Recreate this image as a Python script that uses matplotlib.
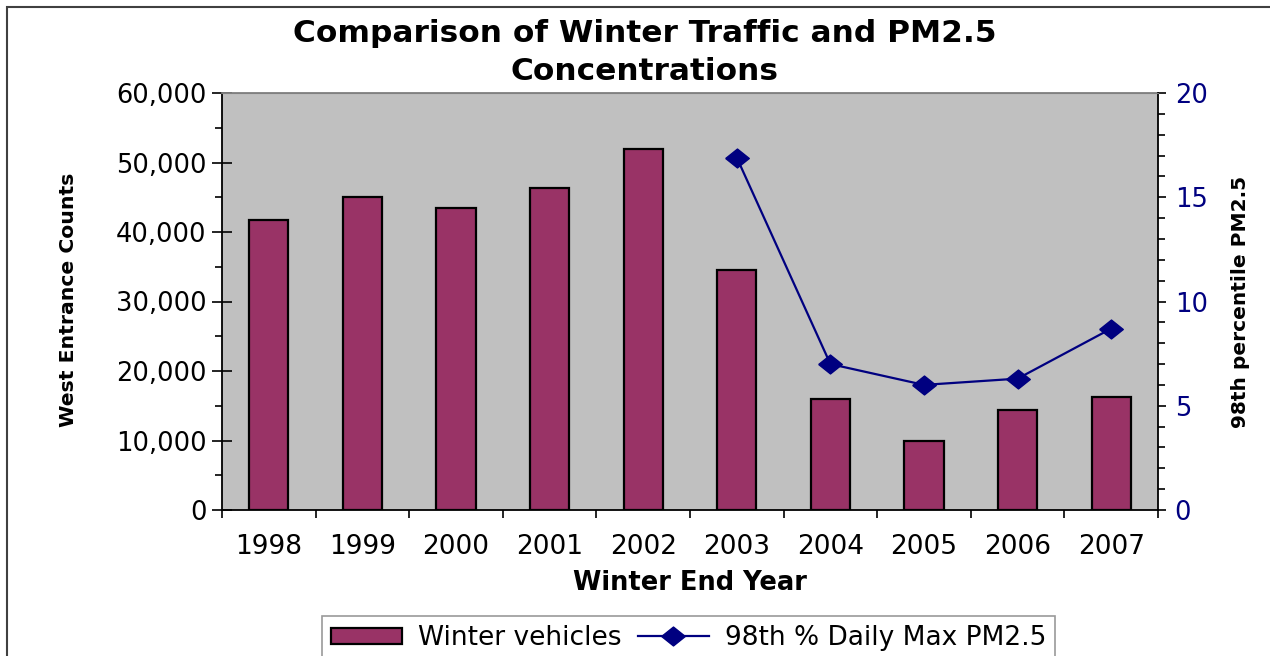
import matplotlib
matplotlib.use('Agg')
import matplotlib.pyplot as plt
import numpy as np
from matplotlib.ticker import FuncFormatter, MultipleLocator, FixedLocator
from matplotlib.lines import Line2D
from matplotlib.patches import Patch, Rectangle

# ---- data ----
years = ['1998', '1999', '2000', '2001', '2002', '2003', '2004', '2005', '2006', '2007']
vehicles = [41700, 45100, 43500, 46400, 51900, 34500, 16000, 9900, 14400, 16200]
pm_years = ['2003', '2004', '2005', '2006', '2007']
pm25 = [16.9, 7.0, 6.0, 6.3, 8.7]

title_line1 = 'Comparison of Winter Traffic and PM2.5'
title_line2 = 'Concentrations'
xlabel = 'Winter End Year'
ylabel_left = 'West Entrance Counts'
ylabel_right = '98th percentile PM2.5'
legend_labels = ['Winter vehicles', '98th % Daily Max PM2.5']

BAR_COLOR = '#993366'
LINE_COLOR = '#000080'
PLOT_BG = '#C0C0C0'
DIAMOND = [(-1, 0), (0, 0.8), (1, 0), (0, -0.8), (-1, 0)]

W, H = 1270, 656
plt.rcParams['font.family'] = ['DejaVu Sans']

fig = plt.figure(figsize=(W / 100, H / 100), dpi=100)
fig.patch.set_facecolor('white')

L, R, T, B = 222, 1158, 93, 510
ax = fig.add_axes([L / W, 1 - B / H, (R - L) / W, (B - T) / H])
ax.set_facecolor(PLOT_BG)

x = np.arange(len(years))
ax.bar(x, vehicles, width=0.42, color=BAR_COLOR, edgecolor='black', linewidth=1.6, zorder=3)
ax.set_xlim(-0.5, len(years) - 0.5)
ax.set_ylim(0, 60000)

# y axis (left)
ax.yaxis.set_major_locator(MultipleLocator(10000))
ax.yaxis.set_minor_locator(MultipleLocator(5000))
ax.yaxis.set_major_formatter(FuncFormatter(lambda v, p: f'{int(v):,}'))
ax.tick_params(axis='y', which='major', direction='inout', length=14, width=1.2,
               labelsize=18.5, pad=4)
ax.tick_params(axis='y', which='minor', direction='out', length=5, width=1.2)

# x axis
ax.set_xticks(x)
ax.set_xticklabels(years)
ax.xaxis.set_minor_locator(FixedLocator(np.arange(-0.5, len(years), 1.0)))
ax.tick_params(axis='x', which='major', length=0, labelsize=19, pad=17)
ax.tick_params(axis='x', which='minor', direction='out', length=6, width=1.2)

for s in ['left', 'bottom']:
    ax.spines[s].set_color('black')
    ax.spines[s].set_linewidth(1.3)
ax.spines['top'].set_color('#808080')
ax.spines['top'].set_linewidth(1.3)
ax.spines['right'].set_visible(False)

# right axis
ax2 = ax.twinx()
pm_x = [years.index(y) for y in pm_years]
ax2.plot(pm_x, pm25, color=LINE_COLOR, linewidth=1.6, marker=DIAMOND, markersize=17,
         markerfacecolor=LINE_COLOR, markeredgecolor=LINE_COLOR, zorder=5)
ax2.set_ylim(0, 20)
ax2.yaxis.set_major_locator(MultipleLocator(5))
ax2.yaxis.set_minor_locator(MultipleLocator(1))
ax2.tick_params(axis='y', which='major', direction='out', length=6, width=1.2,
                labelsize=18.5, labelcolor=LINE_COLOR, pad=6)
ax2.tick_params(axis='y', which='minor', direction='out', length=5, width=1.2)
ax2.spines['right'].set_color('black')
ax2.spines['right'].set_linewidth(1.3)
ax2.spines['top'].set_color('#808080')
ax2.spines['left'].set_visible(False)
ax2.spines['bottom'].set_visible(False)

# titles and labels
fig.text(645 / W, 1 - 34 / H, title_line1, ha='center', va='center',
         fontsize=22.5, fontweight='bold')
fig.text(645 / W, 1 - 72 / H, title_line2, ha='center', va='center',
         fontsize=22.5, fontweight='bold')
fig.text(690 / W, 1 - 583 / H, xlabel, ha='center', va='center',
         fontsize=18.5, fontweight='bold')
fig.text(68 / W, 1 - 300 / H, ylabel_left, ha='center', va='center',
         rotation=90, fontsize=14.7, fontweight='bold')
fig.text(1240 / W, 1 - 302 / H, ylabel_right, ha='center', va='center',
         rotation=90, fontsize=14.5, fontweight='bold')

# legend
handles = [Patch(facecolor=BAR_COLOR, edgecolor='black', linewidth=1.6),
           Line2D([0], [0], color=LINE_COLOR, linewidth=1.6, marker=DIAMOND,
                  markersize=17, markerfacecolor=LINE_COLOR, markeredgecolor=LINE_COLOR)]
leg = fig.legend(handles, legend_labels, loc='upper left',
                 bbox_to_anchor=(322 / W, 1 - 616 / H), ncol=2, frameon=True,
                 fancybox=False, edgecolor='#808080', fontsize=19,
                 handlelength=2.7, handleheight=0.6, columnspacing=0.6,
                 handletextpad=0.6, borderaxespad=0, borderpad=0.35)
leg.get_frame().set_linewidth(1.2)

# figure border
fig.add_artist(Rectangle((7 / W, -0.5), 2, (1 - 7 / H) + 0.5, transform=fig.transFigure,
                         fill=False, edgecolor='#404040', linewidth=1.5))

fig.savefig('out.png', dpi=100)
